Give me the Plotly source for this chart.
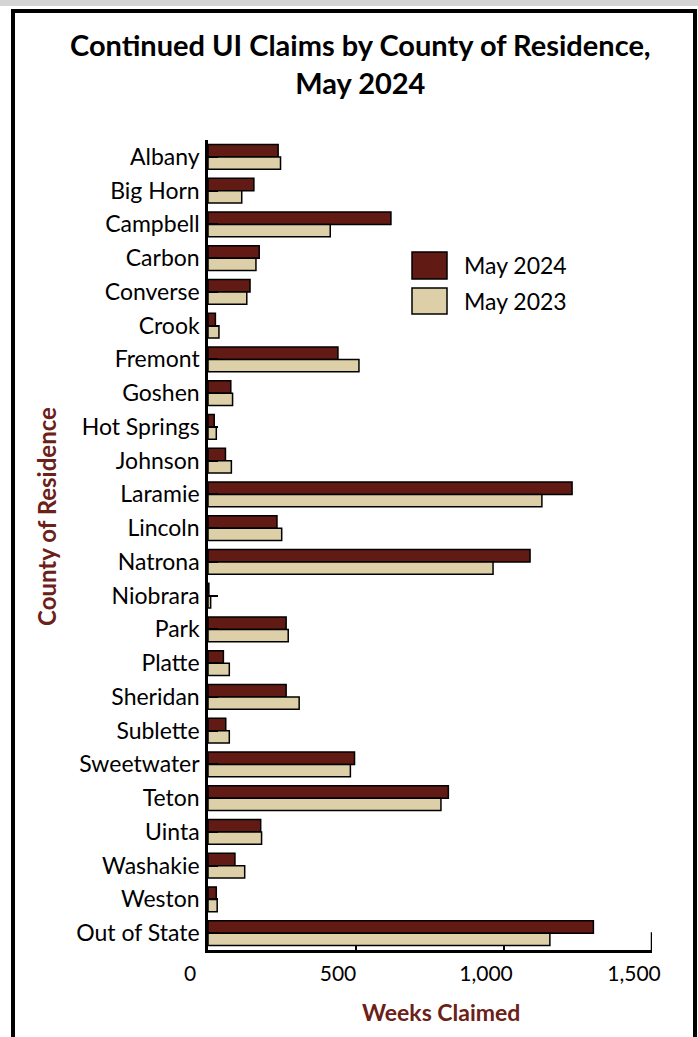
import plotly.graph_objects as go

counties = ["Albany", "Big Horn", "Campbell", "Carbon", "Converse", "Crook", "Fremont",
            "Goshen", "Hot Springs", "Johnson", "Laramie", "Lincoln", "Natrona", "Niobrara",
            "Park", "Platte", "Sheridan", "Sublette", "Sweetwater", "Teton", "Uinta",
            "Washakie", "Weston", "Out of State"]
may_2024 = [237, 155, 618, 173, 142, 25, 439, 77, 21, 59, 1230, 233, 1088, 3,
            264, 52, 264, 60, 495, 812, 178, 91, 28, 1302]
may_2023 = [245, 114, 413, 162, 131, 37, 510, 83, 28, 79, 1128, 249, 963, 9,
            271, 72, 308, 72, 481, 787, 181, 124, 31, 1155]
x_ticks = [0, 500, 1000, 1500]
x_tick_text = ["0", "500", "1,000", "1,500"]

MAROON = "#621b14"
TAN = "#ddd0a8"
TITLE_RED = "#6b2018"
FONT = "Lato"

fig = go.Figure()
fig.add_trace(go.Bar(name="May 2024", y=counties, x=may_2024, orientation="h",
                     marker=dict(color=MAROON, line=dict(color="black", width=1.5))))
fig.add_trace(go.Bar(name="May 2023", y=counties, x=may_2023, orientation="h",
                     marker=dict(color=TAN, line=dict(color="black", width=1.5))))

fig.update_layout(
    width=698, height=1037,
    margin=dict(l=208, r=46, t=140, b=87),
    paper_bgcolor="white", plot_bgcolor="white",
    barmode="group", bargap=0.26, bargroupgap=0,
    showlegend=False,
    font=dict(family=FONT, size=20, color="black"),
)
fig.update_xaxes(range=[0, 1500], tickvals=x_ticks, ticktext=x_tick_text,
                 showgrid=False, zeroline=False, showline=True, linecolor="black",
                 linewidth=2.5, ticks="inside", ticklen=5, tickwidth=2, tickcolor="black",
                 ticklabelshift=-18, ticklabelstandoff=3,
                 tickfont=dict(family=FONT, size=21, color="black"))
fig.update_yaxes(autorange="reversed", showgrid=False, zeroline=False, showline=True,
                 linecolor="black", linewidth=2.5, ticks="inside", ticklen=10,
                 tickwidth=2, tickcolor="black", ticklabelstandoff=1,
                 tickfont=dict(family=FONT, size=23, color="black"))

pw, ph = 444.0, 810.0
def px_x(v):
    return (v - 208) / pw
def px_y(v):
    return (950 - v) / ph

# title
fig.add_annotation(text="<b>Continued UI Claims by County of Residence,<br>May 2024</b>",
                   xref="paper", yref="paper", x=px_x(360), y=px_y(63),
                   xanchor="center", yanchor="middle", showarrow=False,
                   font=dict(family=FONT, size=29, color="black"))

# axis end tick at 1,500
fig.add_shape(type="line", xref="x", yref="paper", x0=1500, x1=1500, y0=0, y1=0.022,
              line=dict(color="black", width=2.5))

# axis titles
fig.add_annotation(text="<b>County of Residence</b>", xref="paper", yref="paper",
                   x=-0.3626, y=0.5346, textangle=-90, showarrow=False,
                   xanchor="center", yanchor="middle",
                   font=dict(family=FONT, size=24, color=TITLE_RED))
fig.add_annotation(text="<b>Weeks Claimed</b>", xref="paper", yref="paper",
                   x=0.525, y=-0.0765, showarrow=False, xanchor="center", yanchor="middle",
                   font=dict(family=FONT, size=23, color=TITLE_RED))

# custom legend
legend_items = [("May 2024", MAROON, 252, 279), ("May 2023", TAN, 288, 314)]
for label, col, top, bot in legend_items:
    fig.add_shape(type="rect", xref="paper", yref="paper",
                  x0=px_x(412), x1=px_x(447), y0=px_y(bot), y1=px_y(top),
                  fillcolor=col, line=dict(color="black", width=1.5))
    fig.add_annotation(text=label, xref="paper", yref="paper", x=px_x(462),
                       y=px_y((top + bot) / 2), xanchor="left", yanchor="middle",
                       showarrow=False, font=dict(family=FONT, size=23, color="black"))

# outer frame (separate edges)
frame = dict(color="black", width=4)
fig.add_shape(type="rect", xref="paper", yref="paper", x0=px_x(0), x1=px_x(698),
              y0=px_y(6), y1=px_y(0), fillcolor="#d4d4d4", line=dict(width=0))
fig.add_shape(type="rect", xref="paper", yref="paper", x0=px_x(11), x1=px_x(697),
              y0=px_y(13), y1=px_y(9), fillcolor="black", line=dict(width=0),
              layer="above", opacity=1)
fig.add_shape(type="line", xref="paper", yref="paper", x0=px_x(13), x1=px_x(13),
              y0=px_y(9), y1=px_y(1040), line=frame)
fig.add_shape(type="line", xref="paper", yref="paper", x0=px_x(695), x1=px_x(695),
              y0=px_y(9), y1=px_y(1040), line=frame)

fig.write_html("out.html", config={"displayModeBar": False},
               post_script="document.body.style.margin='0';document.documentElement.style.overflow='hidden';window.scrollTo(0,0);")
